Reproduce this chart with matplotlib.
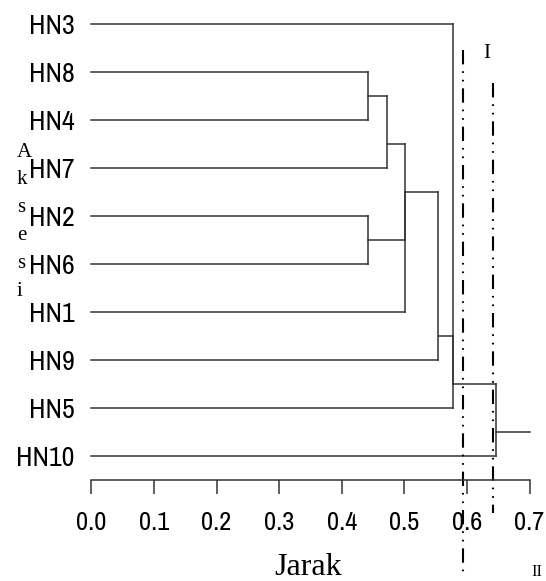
import matplotlib
matplotlib.use('Agg')
import matplotlib.pyplot as plt

# leaf order from top to bottom
leaves = ['HN3', 'HN8', 'HN4', 'HN7', 'HN2', 'HN6', 'HN1', 'HN9', 'HN5', 'HN10']
# merges: (child a, child b, distance); m<i> is the i-th merge
merges = [('HN8', 'HN4', 0.442),
          ('m0', 'HN7', 0.472),
          ('HN2', 'HN6', 0.442),
          ('m1', 'm2', 0.501),
          ('m3', 'HN1', 0.501),
          ('m4', 'HN9', 0.554),
          ('m5', 'HN5', 0.577),
          ('HN3', 'm6', 0.577),
          ('m7', 'HN10', 0.646)]
root_end = 0.70
cutoffs = [0.594, 0.641]
cutoff_names = ['I', 'II']
xticks = [0.0, 0.1, 0.2, 0.3, 0.4, 0.5, 0.6, 0.7]
ylabel = 'Aksesi'
xlabel = 'Jarak'

W, H = 546, 581
fig = plt.figure(figsize=(W / 100, H / 100), dpi=100)
ax = fig.add_axes([91.3 / W, 101 / H, 438.3 / W, 480 / H])

lc = '#333333'
lw = 1.1
narrow = ['Liberation Sans Narrow', 'Arial Narrow', 'Archivo Narrow',
          'PT Sans Narrow', 'Roboto Condensed', 'Liberation Sans']
serif = ['Liberation Serif', 'DejaVu Serif']

nodes = {}
for i, name in enumerate(leaves):
    nodes[name] = dict(y=float(i), h=0.0, lo=i, hi=i)

for k, (a, b, h) in enumerate(merges):
    na, nb = nodes[a], nodes[b]
    up, dn = (na, nb) if na['lo'] < nb['lo'] else (nb, na)
    same = [n for n in (na, nb) if abs(n['h'] - h) < 1e-9]
    y = same[0]['y'] if same else (up['hi'] + dn['lo']) / 2
    ax.plot([h, h], [na['y'], nb['y']], color=lc, lw=lw, clip_on=False)
    for n in (na, nb):
        ax.plot([n['h'], h], [n['y'], n['y']], color=lc, lw=lw, clip_on=False)
    nodes['m%d' % k] = dict(y=y, h=h, lo=min(na['lo'], nb['lo']), hi=max(na['hi'], nb['hi']))

root = nodes['m%d' % (len(merges) - 1)]
ax.plot([root['h'], root_end], [root['y'], root['y']], color=lc, lw=lw, clip_on=False)

# cut lines (dash-dot-dot)
cut_spans = [(0.54, 11.52), (1.23, 10.19)]
for c, (y0, y1) in zip(cutoffs, cut_spans):
    ax.plot([c, c], [y0, y1], color='black', lw=1.5, clip_on=False,
            dashes=(6.9, 3.3, 0.8, 3.3, 0.8, 3.3))

fig.text(486.7 / W, 1 - 53 / H, cutoff_names[0], family=serif, fontsize=15,
         ha='center', va='center')
fig.text(537 / W, 1 - 572 / H, cutoff_names[1], family=serif, fontsize=12,
         ha='center', va='center')

ax.set_xlim(0, 0.7)
ax.set_ylim(9.5, -0.5)
for s in ['top', 'right', 'left']:
    ax.spines[s].set_visible(False)
ax.spines['bottom'].set_color(lc)
ax.spines['bottom'].set_linewidth(lw)

ax.set_xticks(xticks)
ax.set_xticklabels(['%.1f' % t for t in xticks], family=narrow, fontsize=19)
ax.tick_params(axis='x', length=10, width=lw, color=lc, pad=12)
ax.set_yticks(range(len(leaves)))
ax.set_yticklabels(leaves, family=narrow, fontsize=20)
ax.tick_params(axis='y', length=0, pad=12)

fig.text(308 / W, 1 - 575 / H, xlabel, family=serif, fontsize=23,
         ha='center', va='baseline')
ybase = [156.7, 184.0, 212.0, 240.0, 268.0, 296.5]
for ch, yb in zip(ylabel, ybase):
    fig.text(17 / W, 1 - yb / H, ch, family=serif, fontsize=15,
             ha='left', va='baseline')

fig.savefig('out.png', dpi=100)
